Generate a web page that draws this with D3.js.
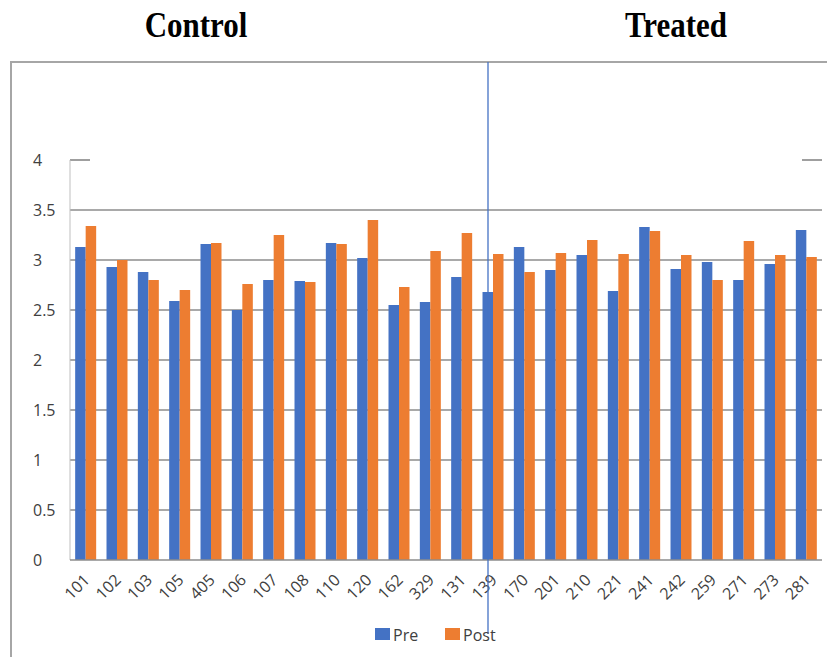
<!DOCTYPE html>
<html><head><meta charset="utf-8">
<script src="https://cdn.jsdelivr.net/npm/d3@7"></script>
<style>body{margin:0;background:#fff}svg{display:block}</style>
</head><body>
<script>
const categories = ["101","102","103","105","405","106","107","108","110","120","162","329","131","139","170","201","210","221","241","242","259","271","273","281"];
const pre  = [3.13,2.93,2.88,2.59,3.16,2.50,2.80,2.79,3.17,3.02,2.55,2.58,2.83,2.68,3.13,2.90,3.05,2.69,3.33,2.91,2.98,2.80,2.96,3.30];
const post = [3.34,3.00,2.80,2.70,3.17,2.76,3.25,2.78,3.16,3.40,2.73,3.09,3.27,3.06,2.88,3.07,3.20,3.06,3.29,3.05,2.80,3.19,3.05,3.03];
const seriesNames = ["Pre","Post"];
const colors = ["#4472C4","#ED7D31"];
const yTicks = [0,0.5,1,1.5,2,2.5,3,3.5,4];
const groupTitles = ["Control","Treated"];

(function(){
const W=827,H=657;
const svg=d3.select("body").append("svg").attr("width",W).attr("height",H);
const pL=70,pR=822,pT=160,pB=560;

// frame
svg.append("line").attr("x1",11).attr("x2",11).attr("y1",62).attr("y2",H).attr("stroke","#a6a6a6").attr("stroke-width",2);
svg.append("line").attr("x1",10).attr("x2",W).attr("y1",62).attr("y2",62).attr("stroke","#a6a6a6").attr("stroke-width",2);

const x=d3.scaleBand().domain(categories).range([pL,pR]).paddingInner(0.33).paddingOuter(0.165);
const xs=d3.scaleBand().domain(seriesNames).range([0,x.bandwidth()]);
const y=d3.scaleLinear().domain([0,4]).range([pB,pT]);

// gridlines
yTicks.forEach(t=>{
  if(t===0) return;
  if(t===4){
    svg.append("line").attr("x1",pL).attr("x2",pL+20).attr("y1",y(t)).attr("y2",y(t)).attr("stroke","#7f7f7f").attr("stroke-width",1.5);
    svg.append("line").attr("x1",pR-20).attr("x2",pR).attr("y1",y(t)).attr("y2",y(t)).attr("stroke","#7f7f7f").attr("stroke-width",1.5);
  } else {
    svg.append("line").attr("x1",pL).attr("x2",pR).attr("y1",y(t)).attr("y2",y(t)).attr("stroke","#8c8c8c").attr("stroke-width",1.5);
  }
});
// y axis line
svg.append("line").attr("x1",pL).attr("x2",pL).attr("y1",pT).attr("y2",pB).attr("stroke","#bfbfbf").attr("stroke-width",1);

// y labels via axis
const ya=svg.append("g").attr("transform",`translate(${pL},0)`).call(d3.axisLeft(y).tickValues(yTicks).tickSize(0).tickFormat(d=>String(d)));
ya.select(".domain").remove();
ya.selectAll("text").attr("x",-37).attr("text-anchor","start").attr("font-family","'Open Sans',sans-serif").attr("font-size",16).attr("fill","#404040");

// bars
const data=categories.map((c,i)=>({c,vals:[pre[i],post[i]]}));
const g=svg.append("g");
data.forEach(d=>{
  d.vals.forEach((v,j)=>{
    g.append("rect").attr("x",x(d.c)+xs(seriesNames[j])).attr("y",y(v)).attr("width",xs.bandwidth()).attr("height",y(0)-y(v)).attr("fill",colors[j]);
  });
});

// baseline
svg.append("line").attr("x1",pL).attr("x2",pR).attr("y1",pB).attr("y2",pB).attr("stroke","#8c8c8c").attr("stroke-width",1.5);

// x labels
const xa=svg.append("g").attr("transform",`translate(0,${pB})`).call(d3.axisBottom(x).tickSize(0));
xa.select(".domain").remove();
xa.selectAll("text").attr("font-family","'Open Sans',sans-serif").attr("font-size",16).attr("fill","#404040")
  .attr("text-anchor","end").attr("dy",0).attr("y",0)
  .attr("transform","translate(5,21) rotate(-45)");

// divider
svg.append("line").attr("x1",488).attr("x2",488).attr("y1",62).attr("y2",634).attr("stroke","#4472C4").attr("stroke-width",1.3);

// legend
const lg=svg.append("g");
const lx=[375,445];
seriesNames.forEach((n,i)=>{
  lg.append("rect").attr("x",lx[i]).attr("y",628).attr("width",15).attr("height",12).attr("fill",colors[i]);
  lg.append("text").attr("x",lx[i]+18).attr("y",641).text(n).attr("font-family","'Open Sans',sans-serif").attr("font-size",16).attr("fill","#404040");
});

// group titles
const tx=[196,676];
groupTitles.forEach((t,i)=>{
  svg.append("text").attr("transform",`translate(${tx[i]},37) scale(1,1.15)`).attr("text-anchor","middle").text(t)
    .attr("font-family","'Liberation Serif','Times New Roman',serif").attr("font-weight","bold").attr("font-size",31).attr("fill","#000");
});
})();
</script>
</body></html>
